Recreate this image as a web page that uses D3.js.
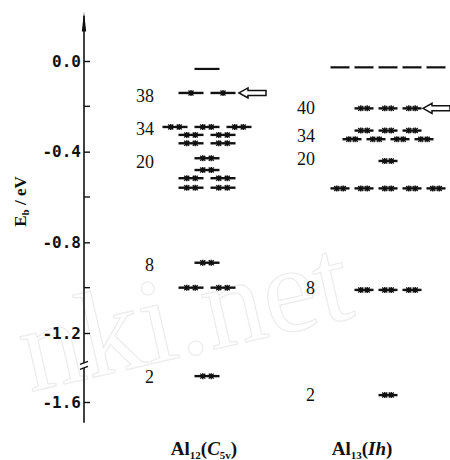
<!DOCTYPE html>
<html>
<head>
<meta charset="utf-8">
<script src="https://cdn.jsdelivr.net/npm/d3@7"></script>
<style>
  body { margin: 0; background: #fff; }
  svg { display: block; }
</style>
</head>
<body>
<svg id="chart" width="450" height="460"></svg>
<script>
// axis ticks (eV)
const majorTicks = [0, -0.4, -0.8, -1.2, -1.6];
const minorTicks = [-0.2, -0.6, -1.0];

// Al12 (C5v) levels: energy, number of degenerate segments, electrons per segment
const al12Energy = [-0.035, -0.141, -0.291, -0.326, -0.363, -0.429, -0.481, -0.517, -0.559, -0.89, -1.0, -1.45];
const al12Segments = [1, 2, 3, 2, 2, 1, 1, 2, 2, 1, 2, 1];
const al12Electrons = [0, 1, 2, 2, 2, 2, 2, 2, 2, 2, 2, 2];
const al12Shells = ['38', '34', '20', '8', '2'];
const al12ShellEnergy = [-0.154, -0.30, -0.445, -0.90, -1.455];
const al12HomoEnergy = -0.141;

// Al13 (Ih) levels
const al13Energy = [-0.028, -0.209, -0.307, -0.345, -0.441, -0.562, -1.01, -1.56];
const al13Segments = [5, 3, 3, 4, 1, 5, 3, 1];
const al13Electrons = [0, 2, 2, 2, 2, 2, 2, 2];
const al13Shells = ['40', '34', '20', '8', '2'];
const al13ShellEnergy = [-0.207, -0.331, -0.432, -1.0, -1.56];
const al13HomoEnergy = -0.209;

const columns = ['Al12', 'Al13'];

const svg = d3.select('#chart');

// faint watermark of the scanned source
svg.append('text')
  .attr('transform', 'translate(30,392) rotate(-13)')
  .attr('font-family', 'Liberation Serif')
  .attr('font-size', 122)
  .attr('fill', 'none')
  .attr('stroke', '#ececec')
  .attr('stroke-width', 1.2)
  .text('nki.net');

// broken axis: linear down to -1.2, compressed below
const y = d3.scaleLinear()
  .domain([0, -1.2, -1.6])
  .range([61, 333, 402]);

const axisX = 84;

const axisG = svg.append('g')
  .attr('transform', `translate(${axisX},0)`);

axisG.append('line')
  .attr('y1', y(0.2))
  .attr('y2', y(-1.72))
  .attr('stroke', '#111')
  .attr('stroke-width', 1.6);

// arrow at top
axisG.append('path')
  .attr('d', `M0,${y(0.216)} L-2.2,${y(0.13)} L2.2,${y(0.13)} Z`)
  .attr('fill', '#111');

// break marks near -1.4
const yb = y(-1.385);
axisG.append('rect')
  .attr('x', -3).attr('y', yb - 2)
  .attr('width', 6).attr('height', 5)
  .attr('fill', '#fff');
axisG.selectAll('.brk')
  .data([yb - 2, yb + 3])
  .enter()
  .append('line')
  .attr('class', 'brk')
  .attr('x1', -4).attr('x2', 4)
  .attr('y1', d => d + 1.5).attr('y2', d => d - 1.5)
  .attr('stroke', '#111')
  .attr('stroke-width', 1.2);

const yAxis = d3.axisLeft(y)
  .tickValues(majorTicks)
  .tickSizeInner(-6)
  .tickSizeOuter(0)
  .tickPadding(3)
  .tickFormat(d3.format('.1f'));

axisG.append('g')
  .call(yAxis)
  .call(g => g.select('.domain').remove())
  .call(g => g.selectAll('.tick line').attr('stroke', '#111').attr('stroke-width', 1.4))
  .call(g => g.selectAll('.tick text')
    .attr('font-family', 'DejaVu Sans Mono')
    .attr('font-weight', 'bold')
    .attr('font-size', 16)
    .attr('fill', '#111')
    .text(d => (d === 0 ? '0.0' : '-' + Math.abs(d).toFixed(1))));

axisG.selectAll('.minor')
  .data(minorTicks)
  .enter()
  .append('line')
  .attr('class', 'minor')
  .attr('x1', 0).attr('x2', 6)
  .attr('y1', d => y(d)).attr('y2', d => y(d))
  .attr('stroke', '#111')
  .attr('stroke-width', 1.4);

// y label
svg.append('text')
  .attr('transform', `translate(26,${y(-0.62)}) rotate(-90)`)
  .attr('text-anchor', 'middle')
  .attr('font-family', 'Liberation Serif')
  .attr('font-weight', 'bold')
  .attr('font-size', 17)
  .attr('fill', '#111')
  .call(t => {
    t.append('tspan').text('E');
    t.append('tspan').attr('font-size', 11).attr('dy', 3).text('b');
    t.append('tspan').attr('dy', -3).text(' / eV');
  });

// column layout
const colCenter = d3.scaleOrdinal().domain(columns).range([207, 388]);
const segWidth = d3.scaleOrdinal().domain(columns).range([25, 19]);
const segGap = d3.scaleOrdinal().domain(columns).range([7, 5]);
const labelX = d3.scaleOrdinal().domain(columns).range([154, 315]);
const arrowX = d3.scaleOrdinal().domain(columns).range([239, 423]);
const nameX = d3.scaleOrdinal().domain(columns).range([204, 362]);

function drawColumn(col, energy, segs, electrons, shells, shellEnergy, homo) {
  const g = svg.append('g').attr('class', col);
  const cx = colCenter(col);
  const w = segWidth(col);
  const gap = segGap(col);

  energy.forEach((e, i) => {
    const n = segs[i];
    const total = n * w + (n - 1) * gap;
    const band = d3.scaleBand()
      .domain(d3.range(n))
      .range([cx - total / 2 - gap / 2, cx + total / 2 + gap / 2])
      .paddingInner(gap / (w + gap))
      .paddingOuter(0.5 * gap / (w + gap));
    d3.range(n).forEach((k) => {
      const x0 = band(k);
      const bw = band.bandwidth();
      const yy = y(e);
      g.append('line')
        .attr('x1', x0).attr('x2', x0 + bw)
        .attr('y1', yy).attr('y2', yy)
        .attr('stroke', '#111')
        .attr('stroke-width', electrons[i] === 0 ? 2.2 : 2.4);
      const ne = electrons[i];
      d3.range(ne).forEach((j) => {
        const ex = x0 + bw * (ne === 1 ? 0.5 : (j === 0 ? 0.33 : 0.67));
        g.append('path')
          .attr('d', `M${ex - 2.5},${yy - 2.5} L${ex + 2.5},${yy + 2.5} M${ex - 2.5},${yy + 2.5} L${ex + 2.5},${yy - 2.5} M${ex},${yy - 3} L${ex},${yy + 3}`)
          .attr('stroke', '#111')
          .attr('stroke-width', 1.4);
      });
    });
  });

  g.selectAll('.shell')
    .data(shells)
    .enter()
    .append('text')
    .attr('class', 'shell')
    .attr('x', labelX(col))
    .attr('y', (d, i) => y(shellEnergy[i]))
    .attr('dy', '0.35em')
    .attr('text-anchor', 'end')
    .attr('font-family', 'Liberation Serif')
    .attr('font-size', 18)
    .attr('fill', '#111')
    .text(d => d);

  // hollow arrow pointing at the HOMO
  const ax = arrowX(col);
  const ay = y(homo);
  g.append('path')
    .attr('d', `M${ax},${ay} L${ax + 9},${ay - 5} L${ax + 9},${ay - 2.5} L${ax + 27},${ay - 2.5} L${ax + 27},${ay + 2.5} L${ax + 9},${ay + 2.5} L${ax + 9},${ay + 5} Z`)
    .attr('fill', '#fff')
    .attr('stroke', '#111')
    .attr('stroke-width', 1.5);
}

drawColumn('Al12', al12Energy, al12Segments, al12Electrons, al12Shells, al12ShellEnergy, al12HomoEnergy);
drawColumn('Al13', al13Energy, al13Segments, al13Electrons, al13Shells, al13ShellEnergy, al13HomoEnergy);

// cluster names
const names = [
  { col: 'Al12', n: '12', sym: 'C', sub: '5v' },
  { col: 'Al13', n: '13', sym: 'Ih', sub: '' },
];
names.forEach((d) => {
  const t = svg.append('text')
    .attr('x', nameX(d.col))
    .attr('y', 455)
    .attr('text-anchor', 'middle')
    .attr('font-family', 'Liberation Serif')
    .attr('font-weight', 'bold')
    .attr('font-size', 19)
    .attr('fill', '#111');
  t.append('tspan').text('Al');
  t.append('tspan').attr('font-size', 11).attr('dy', 4).text(d.n);
  t.append('tspan').attr('dy', -4).text('(');
  t.append('tspan').attr('font-style', 'italic').text(d.sym);
  if (d.sub) t.append('tspan').attr('font-size', 11).attr('dy', 4).text(d.sub);
  t.append('tspan').attr('dy', d.sub ? -4 : 0).text(')');
});
</script>
</body>
</html>
